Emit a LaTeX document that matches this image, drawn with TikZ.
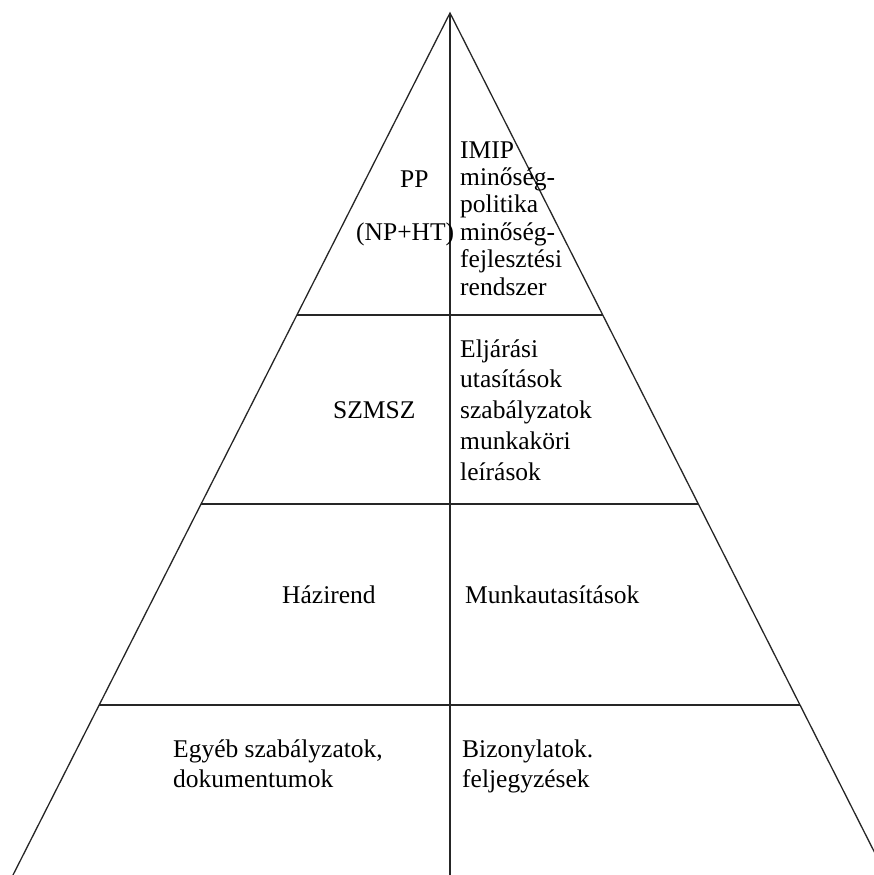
\documentclass[tikz,border=0pt]{standalone}
\usepackage{fontspec}
\setmainfont{Liberation Serif}
\usetikzlibrary{calc}
\begin{document}
\begin{tikzpicture}[x=1pt,y=-1pt,
  side/.style={line width=1.3pt,black!85},
  rule/.style={line width=1.4pt,black!85},
  txt/.style={anchor=base west,inner sep=0pt,font=\fontsize{25.5}{30}\selectfont}]
\useasboundingbox (0,0) rectangle (874,875);
% outline of the pyramid
\coordinate (apex) at (450,13);
\coordinate (bl) at (13,875);
\coordinate (br) at (886,875);
\coordinate (mid) at (450,875);
\begin{scope}
\clip (0,0) rectangle (874,875);
\draw[side] (bl) -- (apex) -- (br);
\draw[line width=0.8pt,black!15] (bl) -- (br);
\end{scope}
\draw[rule] (apex) -- (mid);
% horizontal levels, ending on the slanted sides
\foreach \y/\n in {315/a,504/b,705/c}{
  \coordinate (l\n) at ($(apex)!{(\y-13)/862}!(bl)$);
  \coordinate (r\n) at ($(apex)!{(\y-13)/862}!(br)$);
  \draw[rule] (l\n) -- (r\n);
}
% top level
\node[txt] (pp) at (400,187) {PP};
\node[txt] (nphr) at (356,240) {(NP+HT)};
\node[txt] (t1) at (460,158) {IMIP};
\node[txt] (t2) at (460,185.4) {minőség-};
\node[txt] (t3) at (460,212.8) {politika};
\node[txt] (t4) at (460,240.2) {minőség-};
\node[txt] (t5) at (460,267.6) {fejlesztési};
\node[txt] (t6) at (460,295) {rendszer};
% second level
\node[txt] (szmsz) at (333,418) {SZMSZ};
\node[txt] (s1) at (460,357) {Eljárási};
\node[txt] (s2) at (460,387.5) {utasítások};
\node[txt] (s3) at (460,418) {szabályzatok};
\node[txt] (s4) at (460,449) {munkaköri};
\node[txt] (s5) at (460,480) {leírások};
% third level
\node[txt] (haz) at (282,603) {Házirend};
\node[txt] (munka) at (465,603) {Munkautasítások};
% bottom level
\node[txt] (e1) at (173,757) {Egyéb szabályzatok,};
\node[txt] (e2) at (173,787) {dokumentumok};
\node[txt] (b1) at (462,757) {Bizonylatok.};
\node[txt] (b2) at (462,787) {feljegyzések};
\end{tikzpicture}
\end{document}
